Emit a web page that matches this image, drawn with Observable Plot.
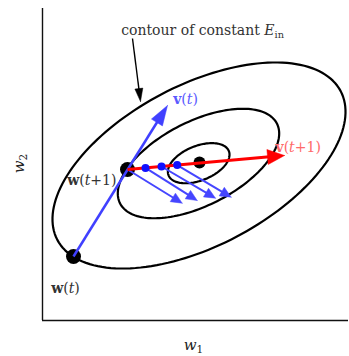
<!DOCTYPE html>
<html><head><meta charset="utf-8">
<script src="https://cdn.jsdelivr.net/npm/d3@7"></script>
<script src="https://cdn.jsdelivr.net/npm/@observablehq/plot@0.6"></script>
<style>body{margin:0;background:#fff}</style>
</head><body><div id="chart"></div>
<script>
// ---- data (plot units; x: 0..306, y: 0..312) ----
const ellipseNames = ["outer", "middle", "inner"];
const ellipseCx = [156.5, 156, 156.2];
const ellipseCy = [155, 157, 157.3];
const ellipseA = [160, 88, 32.5];
const ellipseB = [80.5, 42, 17.2];
const ellipseAngle = [27.7, 27, 22];

const bigPointNames = ["w(t)", "w(t+1)"];
const bigPointX = [31, 85];
const bigPointY = [64, 151];
const minPointX = [157];
const minPointY = [158];

const stepX = [103, 119, 134.7];
const stepY = [152.6, 154.0, 155.4];

const vArrowX = [31, 125];          // v(t): from w(t) to tip
const vArrowY = [64, 215];
const redArrowX = [85, 242];        // v(t+1): from w(t+1) to tip
const redArrowY = [151, 165];
const gradFromX = [85, 103, 119, 134.7];
const gradFromY = [151, 152.6, 154.0, 155.4];
const gradToX = [139.7, 154.7, 173, 188.7];
const gradToY = [117.3, 120, 122.3, 123.3];
const pointerX = [90, 98];
const pointerY = [282, 219];

const labelText = ["contour of constant Ein", "v(t)", "v(t+1)", "w(t+1)", "w(t)"];
const labelX = [78.7, 130.7, 233, 24.7, 8.7];
const labelY = [289.5, 220.5, 172.5, 140, 31.5];
const axisLabels = ["w1", "w2"];

// ---- geometry helpers ----
const ellipsePts = [];
ellipseNames.forEach((name, i) => {
  const th = ellipseAngle[i] * Math.PI / 180;
  for (let k = 0; k <= 160; k++) {
    const t = 2 * Math.PI * k / 160;
    const u = ellipseA[i] * Math.cos(t), v = ellipseB[i] * Math.sin(t);
    ellipsePts.push({name, x: ellipseCx[i] + u * Math.cos(th) - v * Math.sin(th),
                           y: ellipseCy[i] + u * Math.sin(th) + v * Math.cos(th)});
  }
});

function arrows(x1s, y1s, x2s, y2s, len, hw) {
  const shafts = [], heads = [];
  x1s.forEach((x1, i) => {
    const y1 = y1s[i], x2 = x2s[i], y2 = y2s[i];
    const dx = x2 - x1, dy = y2 - y1, L = Math.hypot(dx, dy), ux = dx / L, uy = dy / L;
    const bx = x2 - ux * len, by = y2 - uy * len;
    shafts.push({x1, y1, x2: bx + ux * 2, y2: by + uy * 2});
    heads.push({id: i, x: x2, y: y2}, {id: i, x: bx - uy * hw, y: by + ux * hw},
               {id: i, x: bx + uy * hw, y: by - ux * hw}, {id: i, x: x2, y: y2});
  });
  return {shafts, heads};
}
function arrowMarks(a, color, width) {
  return [
    Plot.link(a.shafts, {x1: "x1", y1: "y1", x2: "x2", y2: "y2", stroke: color, strokeWidth: width}),
    Plot.line(a.heads, {x: "x", y: "y", z: "id", fill: color, stroke: color, strokeWidth: 0.5})
  ];
}

const vA = arrows([vArrowX[0]], [vArrowY[0]], [vArrowX[1]], [vArrowY[1]], 20, 6.5);
const rA = arrows([redArrowX[0]], [redArrowY[0]], [redArrowX[1]], [redArrowY[1]], 17, 7.5);
const gA = arrows(gradFromX, gradFromY, gradToX, gradToY, 11, 5);
const pA = arrows([pointerX[0]], [pointerY[0]], [pointerX[1]], [pointerY[1]], 13, 4);

const big = bigPointNames.map((n, i) => ({x: bigPointX[i], y: bigPointY[i]}));
const mins = minPointX.map((x, i) => ({x, y: minPointY[i]}));
const steps = stepX.map((x, i) => ({x, y: stepY[i]}));
const labels = labelText.map((t, i) => ({t, x: labelX[i], y: labelY[i]}));

const serif = "DejaVu Serif, Liberation Serif, serif";

const plot = Plot.plot({
  width: 349, height: 356,
  marginLeft: 42, marginRight: 1, marginTop: 8, marginBottom: 36,
  x: {domain: [0, 306], axis: null},
  y: {domain: [0, 312], axis: null},
  style: {background: "white", fontFamily: serif},
  marks: [
    Plot.ruleX([0], {stroke: "#111", strokeWidth: 1.4}),
    Plot.ruleY([0], {stroke: "#111", strokeWidth: 1.4}),
    Plot.line(ellipsePts, {x: "x", y: "y", z: "name", stroke: "#000", strokeWidth: 2.2}),
    ...arrowMarks(pA, "#000", 1.4),
    Plot.dot(big, {x: "x", y: "y", r: 7.5, fill: "#000"}),
    Plot.dot(mins, {x: "x", y: "y", r: 6, fill: "#000"}),
    ...arrowMarks(vA, "#4040ff", 2.5),
    ...arrowMarks(gA, "#4545ff", 2),
    ...arrowMarks(rA, "#ff0000", 3),
    Plot.dot(steps, {x: "x", y: "y", r: 4, fill: "#1010ff"}),
    Plot.text([labels[0]], {x: "x", y: "y", text: "t", textAnchor: "start", fontFamily: serif, fontSize: 14, fill: "#333"}),
    Plot.text([labels[1]], {x: "x", y: "y", text: "t", textAnchor: "start", fontFamily: serif, fontSize: 14, fill: "#5a5aff"}),
    Plot.text([labels[2]], {x: "x", y: "y", text: "t", textAnchor: "start", fontFamily: serif, fontSize: 14, fill: "#ff6a6a"}),
    Plot.text([labels[3], labels[4]], {x: "x", y: "y", text: "t", textAnchor: "start", fontFamily: serif, fontSize: 14, fill: "#333"}),
    Plot.text([axisLabels[0]], {x: 151, y: -24.5, text: d => d, textAnchor: "middle", fontFamily: serif, fontSize: 15, fill: "#222"}),
    Plot.text([axisLabels[1]], {x: -23, y: 157, text: d => d, textAnchor: "middle", rotate: -90, fontFamily: serif, fontSize: 15, fill: "#222"})
  ]
});

// rich text: bold vectors, italic variables, subscripts
const NS = "http://www.w3.org/2000/svg";
plot.querySelectorAll("text").forEach(el => {
  const s = el.textContent;
  let parts = null, m;
  if ((m = s.match(/^([wv])(\(.*\))$/))) {
    parts = [[m[1], "b"]];
    for (const p of m[2].split(/(t)/)) if (p) parts.push([p, p === "t" ? "i" : ""]);
  } else if ((m = s.match(/^(.*)E(in)$/))) {
    parts = [[m[1], ""], ["E", "i"], [m[2], "sub"]];
  } else if ((m = s.match(/^w([12])$/))) {
    parts = [["w", "i"], [m[1], "sub"]];
  }
  if (!parts) return;
  el.textContent = "";
  for (const [txt, st] of parts) {
    const ts = document.createElementNS(NS, "tspan");
    ts.textContent = txt;
    if (st === "b") ts.setAttribute("font-weight", "bold");
    if (st === "i") ts.setAttribute("font-style", "italic");
    if (st === "sub") { ts.setAttribute("font-size", "0.7em"); ts.setAttribute("dy", "0.3em"); }
    el.appendChild(ts);
  }
});

document.getElementById("chart").appendChild(plot);
</script>
</body></html>
